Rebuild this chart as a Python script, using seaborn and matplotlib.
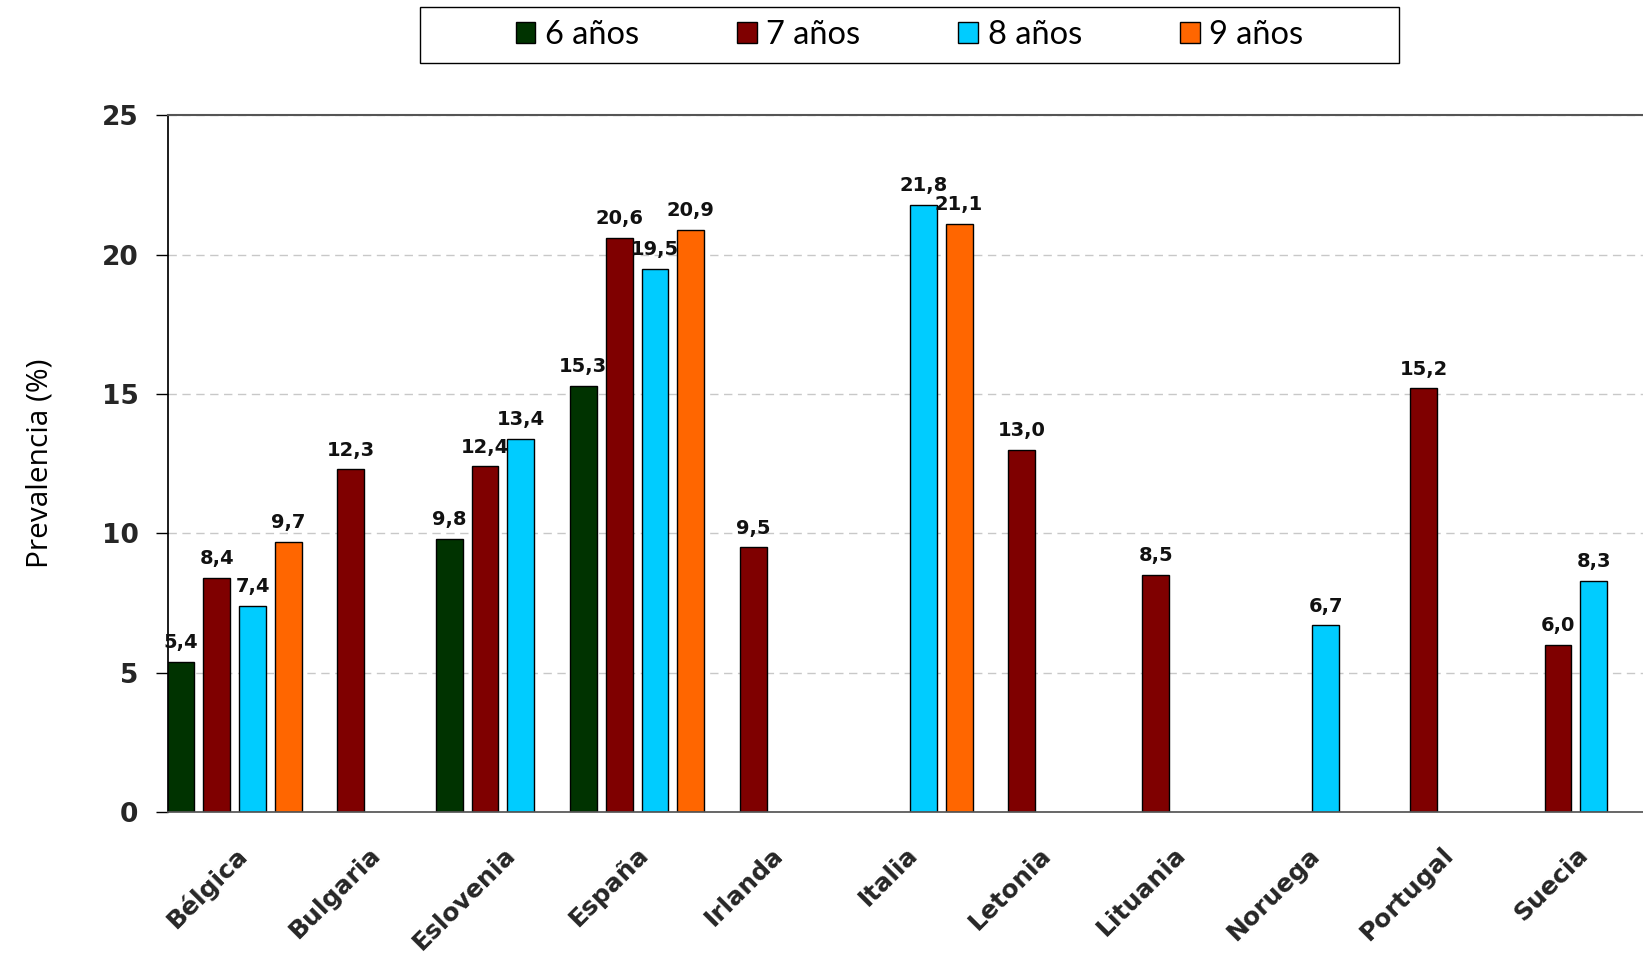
import numpy as np
import pandas as pd
import seaborn as sns
import matplotlib.pyplot as plt
from matplotlib.patches import Patch, Rectangle

# Data
paises = ['Bélgica', 'Bulgaria', 'Eslovenia', 'España', 'Irlanda', 'Italia',
          'Letonia', 'Lituania', 'Noruega', 'Portugal', 'Suecia']
edades = ['6 años', '7 años', '8 años', '9 años']
nan = np.nan
edad_6 = [5.4, nan, 9.8, 15.3, nan, nan, nan, nan, nan, nan, nan]
edad_7 = [8.4, 12.3, 12.4, 20.6, 9.5, nan, 13.0, 8.5, nan, 15.2, 6.0]
edad_8 = [7.4, nan, 13.4, 19.5, nan, 21.8, nan, nan, 6.7, nan, 8.3]
edad_9 = [9.7, nan, nan, 20.9, nan, 21.1, nan, nan, nan, nan, nan]
colores = ['#003300', '#7F0000', '#00CCFF', '#FF6600']

df = pd.DataFrame({'pais': paises, edades[0]: edad_6, edades[1]: edad_7,
                   edades[2]: edad_8, edades[3]: edad_9})
df = df.melt(id_vars='pais', var_name='edad', value_name='valor')

sns.set_theme(style='white')

fig = plt.figure(figsize=(16.43, 9.61), dpi=100)
ax = fig.add_axes([0.102, 0.155, 0.898, 0.725])

sns.barplot(data=df, x='pais', y='valor', hue='edad', order=paises, hue_order=edades,
            palette=colores, saturation=1, width=1.07, gap=0.25, edgecolor='black',
            linewidth=1, errorbar=None, legend=False, ax=ax)

# value labels with comma decimals
for cont in ax.containers:
    ax.bar_label(cont, fmt=lambda v: f'{v:.1f}'.replace('.', ','), padding=7,
                 fontsize=14, fontweight='bold', family='DejaVu Sans', color='#111111')

ax.set_xlim(-0.5, 10.5)
ax.set_ylim(0, 25)
ax.set_yticks(range(0, 26, 5))
ax.yaxis.grid(True, linestyle=(0, (6, 4)), color='#C8C8C8', linewidth=1)
ax.set_axisbelow(True)
ax.tick_params(axis='y', which='major', left=True, length=9, width=1, pad=12,
               labelsize=19, color='black')
ax.tick_params(axis='x', length=0, pad=22)
for lab in ax.get_yticklabels():
    lab.set_fontweight('bold')
    lab.set_family('DejaVu Sans')
ax.set_xticks(range(len(paises)))
ax.set_xticklabels(paises, rotation=45, ha='right', va='top', rotation_mode='anchor',
                   fontsize=18, fontweight='bold', family='DejaVu Sans')
ax.set_xlabel('')
ax.set_ylabel('Prevalencia (%)', fontsize=21.5, family='Open Sans', color='black',
              labelpad=34)

ax.spines['left'].set_color('black')
ax.spines['bottom'].set_color('#555555')
ax.spines['top'].set_color('#555555')
ax.spines['top'].set_linewidth(1.5)
ax.spines['right'].set_visible(False)

# legend box at top
handles = [Patch(facecolor=c, edgecolor='black', label=e) for c, e in zip(colores, edades)]
fig.legend(handles=handles, loc='center', bbox_to_anchor=(0.5536, 0.9635), ncol=4,
           frameon=False, prop={'family': 'Lato', 'size': 23.5}, labelcolor='black',
           handlelength=0.6, handleheight=0.6, handletextpad=0.3, columnspacing=3.0)
fig.add_artist(Rectangle((0.2557, 0.9346), 0.5957, 0.0578, transform=fig.transFigure,
                         fill=False, edgecolor='black', linewidth=1))

fig.savefig('out.png', dpi=100, facecolor='white')
